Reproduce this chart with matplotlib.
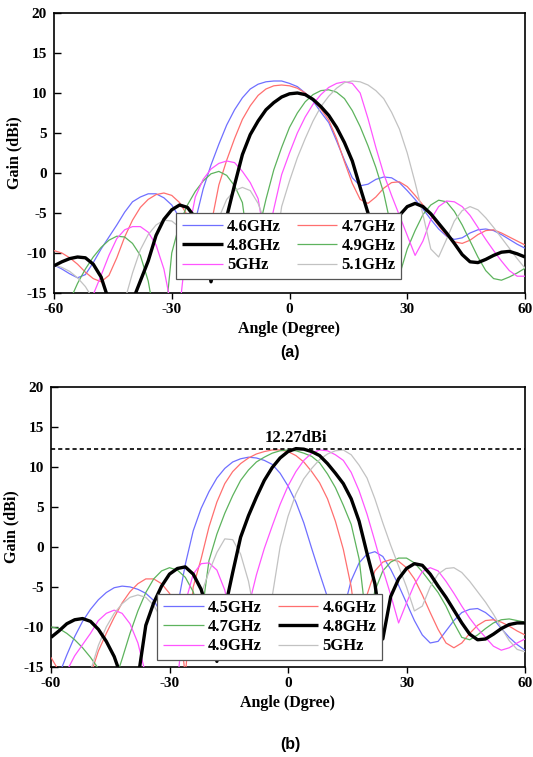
import matplotlib.pyplot as plt

plt.rcParams["font.family"] = ["Liberation Serif", "DejaVu Serif"]
plt.rcParams["font.weight"] = "bold"
plt.rcParams["axes.labelweight"] = "bold"
plt.rcParams["axes.unicode_minus"] = False

# Scan angle in degrees, shared by every curve
ANGLE = list(range(-60, 61, 2))

# (a) gain in dBi, 4.6 - 5.1 GHz
A_46 = [-11.5, -12.0, -12.6, -13.1, -12.7, -11.2, -9.5, -8.0, -6.5, -4.9,
        -3.6, -3.0, -2.6, -2.6, -3.1, -4.0, -5.6, -11.0, -6.0, -2.0,
        1.0, 3.6, 6.0, 7.9, 9.4, 10.5, 11.1, 11.4, 11.5, 11.5,
        11.2, 10.8, 10.0, 9.0, 7.6, 6.3, 4.0, 1.6, -0.6, -1.6,
        -1.4, -0.8, -0.5, -0.6, -1.2, -2.2, -3.3, -4.5, -5.8, -7.0,
        -7.9, -8.3, -8.1, -7.5, -7.1, -7.0, -7.2, -7.7, -8.3, -8.9,
        -9.4]
A_47 = [-9.7, -10.0, -10.6, -11.4, -12.4, -13.2, -13.6, -12.8, -10.6, -8.0,
        -5.9, -4.3, -3.3, -2.7, -2.5, -2.8, -3.7, -5.3, -8.0, -12.0,
        -6.5, -1.5, 1.6, 4.3, 6.7, 8.4, 9.7, 10.5, 10.9, 11.0,
        10.9, 10.6, 10.0, 9.1, 8.0, 6.6, 4.3, 1.4, -1.3, -3.3,
        -3.8, -3.0, -1.9, -1.2, -1.1, -1.7, -2.8, -4.0, -5.3, -6.6,
        -7.8, -8.6, -8.8, -8.4, -7.7, -7.2, -7.1, -7.5, -8.0, -8.5,
        -9.0]
A_48 = [-11.6, -11.1, -10.7, -10.5, -10.6, -11.4, -13.0, -16.0, -22.0, -19.0,
        -16.0, -13.5, -11.0, -7.8, -5.8, -4.6, -4.0, -4.3, -5.6, -8.0,
        -13.6, -9.5, -5.5, -1.5, 2.3, 4.8, 6.5, 7.9, 8.8, 9.5,
        9.9, 10.0, 9.8, 9.2, 8.3, 7.2, 5.7, 3.8, 1.5, -1.8,
        -5.0, -8.0, -12.0, -7.5, -5.3, -4.2, -3.8, -4.2, -5.1, -6.3,
        -7.5, -8.8, -10.2, -11.1, -11.2, -10.8, -10.3, -9.9, -9.8, -10.1,
        -10.5]
A_49 = [-20.0, -18.0, -16.0, -13.8, -12.0, -10.5, -9.3, -8.4, -7.9, -8.0,
        -8.8, -10.3, -13.5, -19.0, -20.0, -10.0, -6.3, -4.0, -2.3, -1.0,
        -0.1, 0.2, -0.3, -1.6, -3.7, -11.0, -7.5, -3.3, 0.4, 3.2,
        5.7, 7.5, 8.9, 9.8, 10.3, 10.4, 10.1, 9.3, 7.8, 5.8,
        3.4, 0.7, -2.5, -7.0, -12.8, -9.5, -7.2, -5.2, -4.0, -3.4,
        -3.6, -4.8, -6.5, -8.5, -10.5, -12.2, -13.2, -13.4, -13.0, -12.5,
        -11.9]
A_50 = [-30.0, -28.0, -24.0, -20.0, -17.0, -15.2, -12.8, -10.3, -8.2, -7.1,
        -6.7, -6.7, -7.4, -9.0, -12.0, -17.0, -17.0, -8.0, -3.0, -0.8,
        0.5, 1.2, 1.5, 1.3, 0.2, -1.2, -3.2, -9.0, -4.5, -0.2,
        2.5, 5.0, 7.0, 8.6, 9.8, 10.7, 11.2, 11.4, 11.2, 10.0,
        6.8, 3.2, -0.1, -2.8, -5.3, -7.8, -10.3, -8.5, -5.8, -4.2,
        -3.5, -3.6, -4.2, -5.3, -6.8, -8.3, -9.7, -11.0, -12.2, -12.9,
        -12.9]
A_51 = [-11.5, -11.8, -12.3, -13.1, -14.2, -15.8, -18.0, -22.0, -20.0, -16.0,
        -12.5, -9.6, -7.7, -6.5, -5.9, -6.0, -6.8, -8.5, -11.0, -12.5,
        -10.0, -5.6, -3.3, -2.2, -1.8, -2.2, -3.8, -6.5, -11.0, -4.2,
        -1.0, 1.9, 4.3, 6.5, 8.3, 9.6, 10.6, 11.3, 11.5, 11.4,
        11.0, 10.3, 9.3, 7.6, 5.5, 2.5, -1.2, -5.2, -9.5, -10.5,
        -8.3, -6.0, -4.7, -4.2, -4.6, -5.6, -6.8, -8.1, -9.4, -10.7,
        -11.9]

# (b) gain in dBi, 4.5 - 5.0 GHz
B_45 = [-20.0, -16.0, -13.5, -11.2, -9.3, -7.8, -6.6, -5.7, -5.1, -4.9,
        -5.0, -5.3, -5.8, -6.7, -8.3, -12.0, -7.5, -2.2, 2.0, 4.8,
        6.9, 8.6, 9.8, 10.6, 11.0, 11.2, 11.1, 10.8, 10.3, 9.2,
        7.6, 5.6, 3.0, -0.2, -3.3, -6.3, -12.0, -8.0, -4.2, -2.0,
        -0.9, -0.6, -1.2, -2.8, -4.8, -7.0, -9.2, -11.0, -12.0, -11.8,
        -10.5, -9.2, -8.2, -7.8, -7.7, -8.2, -9.0, -10.2, -11.3, -12.2,
        -12.9]
B_46 = [-13.8, -15.5, -18.0, -20.0, -18.0, -16.0, -13.0, -10.8, -8.8, -7.0,
        -5.6, -4.6, -4.0, -4.0, -4.6, -5.8, -7.8, -16.0, -5.0, -1.5,
        2.5, 5.6, 7.9, 9.4, 10.4, 11.1, 11.6, 11.9, 12.1, 12.1,
        11.9, 11.4, 10.6, 9.4, 8.0, 6.0, 3.2, -0.3, -5.0, -12.5,
        -6.0, -3.0, -1.9, -1.6, -1.8, -2.6, -4.0, -6.0, -8.2, -10.3,
        -12.0, -12.6, -12.0, -10.8, -9.8, -9.2, -9.1, -9.4, -9.9, -10.5,
        -11.0]
B_47 = [-10.0, -10.2, -10.8, -11.6, -12.6, -13.8, -15.2, -18.0, -17.0, -14.0,
        -10.8, -8.0, -5.7, -4.0, -3.0, -2.6, -2.9, -3.8, -5.6, -9.0,
        -1.7, 1.6, 4.2, 6.4, 8.3, 9.6, 10.6, 11.2, 11.7, 12.0,
        12.1, 12.0, 11.7, 11.3, 10.5, 9.1, 7.4, 5.2, 2.8, -1.5,
        -10.0, -5.5, -3.0, -1.9, -1.4, -1.4, -2.0, -3.1, -4.4, -5.7,
        -7.4, -9.5, -11.3, -11.6, -11.0, -10.2, -9.5, -9.1, -9.0, -9.2,
        -9.4]
B_48 = [-11.3, -10.5, -9.6, -9.1, -8.95, -9.3, -10.3, -11.8, -13.7, -16.5,
        -22.0, -16.5, -9.8, -7.0, -4.9, -3.4, -2.7, -2.5, -3.4, -5.3,
        -8.5, -14.3, -7.8, -3.2, 1.2, 3.9, 6.2, 8.3, 9.9, 11.1,
        11.9, 12.27, 12.2, 11.9, 11.4, 10.4, 9.2, 7.9, 6.0, 3.2,
        -0.8, -4.6, -11.5, -6.2, -4.0, -2.7, -2.1, -2.3, -3.4, -4.9,
        -6.3, -7.9, -9.5, -10.9, -11.6, -11.5, -10.9, -10.2, -9.7, -9.5,
        -9.5]
B_49 = [-25.0, -20.0, -15.5, -13.6, -12.2, -10.8, -9.2, -8.3, -7.9, -8.3,
        -9.6, -12.0, -16.0, -22.0, -24.0, -22.0, -17.0, -7.0, -3.4, -2.1,
        -2.0, -2.9, -5.4, -10.0, -12.5, -7.5, -3.5, -0.2, 2.6, 5.3,
        7.6, 9.4, 10.8, 11.7, 12.1, 12.0, 11.5, 10.8, 9.3, 7.0,
        4.1, 0.7, -2.8, -6.0, -9.5, -7.0, -4.7, -3.1, -2.6, -3.0,
        -4.3, -5.8, -7.4, -8.9, -10.2, -11.3, -12.4, -12.9, -12.6, -12.0,
        -11.5]
B_50 = [-30.0, -28.0, -25.0, -21.0, -18.0, -15.5, -12.3, -10.0, -8.3, -7.1,
        -6.3, -6.0, -6.3, -7.3, -9.0, -12.0, -13.0, -12.0, -10.0, -5.9,
        -3.1, -0.7, 1.0, 0.9, -0.9, -4.3, -9.5, -12.5, -6.2, 0.0,
        3.8, 6.6, 8.5, 9.8, 10.9, 11.6, 12.0, 12.1, 11.5, 10.2,
        8.6, 6.0, 3.0, 0.2, -2.4, -5.0, -8.0, -7.4, -5.0, -3.4,
        -2.7, -2.6, -3.2, -4.3, -5.6, -6.9, -8.4, -10.1, -11.7, -12.8,
        -13.1]

PEAK_GAIN = 12.27

BLUE, RED, GREEN = "#6F6FFF", "#FF6F6F", "#5DB35D"
BLACK, MAGENTA, GREY = "black", "#FF55FF", "#C2C2C2"

W, H = 533, 757


def draw_panel(ax, series, xlabel, legend_corner):
    """Gain against angle, one line per frequency, legend in the lower middle."""
    handles = {}
    for label, gains, colour in series:
        thick = colour == BLACK
        (line,) = ax.plot(ANGLE, gains, color=colour, lw=2.4 if thick else 0.9,
                          zorder=4 if thick else 3, solid_capstyle="butt")
        handles[label] = line

    ax.set_xlim(-60, 60)
    ax.set_ylim(-15, 20)
    ax.set_xticks([-60, -30, 0, 30, 60])
    ax.set_yticks(range(-15, 21, 5))
    ax.tick_params(axis="x", direction="out", length=4, width=1, labelsize=11, pad=3)
    ax.tick_params(axis="y", direction="in", length=5, width=1, labelsize=11, pad=5)
    for lab in ax.get_xticklabels() + ax.get_yticklabels():
        lab.set_fontweight("bold")
    for spine in ax.spines.values():
        spine.set_linewidth(1.2)
    ax.set_xlabel(xlabel, fontsize=11.5, labelpad=4)
    ax.set_ylabel("Gain (dBi)", fontsize=11.5, labelpad=3)

    # Matplotlib fills legend columns first; reorder so the labels run across rows
    labels = [s[0] for s in series]
    order = labels[0::2] + labels[1::2]
    fig = ax.figure
    leg = ax.legend([handles[k] for k in order], order, ncol=2, loc="upper left",
                    bbox_to_anchor=(legend_corner[0] / W, 1 - legend_corner[1] / H),
                    bbox_transform=fig.transFigure, borderaxespad=0,
                    prop={"family": "Liberation Serif", "weight": "bold", "size": 12},
                    handlelength=2.45, handletextpad=0.25, columnspacing=0.95,
                    labelspacing=0.2, borderpad=0.35, fancybox=False, framealpha=1,
                    edgecolor="#555555")
    leg.get_frame().set_linewidth(0.9)
    leg.set_zorder(10)


fig = plt.figure(figsize=(W / 100, H / 100), dpi=100)

ax_a = fig.add_axes([54 / W, 1 - 293 / H, (525 - 54) / W, 280 / H])
draw_panel(ax_a, [("4.6GHz", A_46, BLUE), ("4.7GHz", A_47, RED),
                  ("4.8GHz", A_48, BLACK), ("4.9GHz", A_49, GREEN),
                  ("5GHz", A_50, MAGENTA), ("5.1GHz", A_51, GREY)],
           "Angle (Degree)", (176, 213))

ax_b = fig.add_axes([51 / W, 1 - 667 / H, (525 - 51) / W, 280.3 / H])
draw_panel(ax_b, [("4.5GHz", B_45, BLUE), ("4.6GHz", B_46, RED),
                  ("4.7GHz", B_47, GREEN), ("4.8GHz", B_48, BLACK),
                  ("4.9GHz", B_49, MAGENTA), ("5GHz", B_50, GREY)],
           "Angle (Dgree)", (157, 594))

ax_b.axhline(PEAK_GAIN, color="black", lw=1.2, ls=(0, (2.5, 1.8)), zorder=5)
ax_b.text(2, PEAK_GAIN + 0.35, f"{PEAK_GAIN}dBi", ha="center", va="bottom",
          fontsize=12, fontweight="bold")

for tag, y in (("(a)", 352), ("(b)", 745)):
    fig.text(290 / W, 1 - y / H, tag, ha="center", va="center", fontsize=11.5,
             fontweight="bold", family="Liberation Sans")

fig.savefig("out.png", dpi=100)
